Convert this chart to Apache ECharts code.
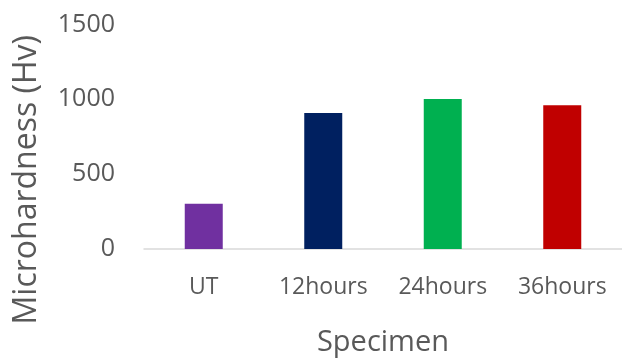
<!DOCTYPE html>
<html>
<head>
<meta charset="utf-8">
<script src="https://cdn.jsdelivr.net/npm/echarts@6/dist/echarts.min.js"></script>
<style>
  html, body { margin: 0; padding: 0; background: #fff; }
  #chart { width: 622px; height: 362px; }
</style>
</head>
<body>
<div id="chart"></div>
<script>
// data
const specimens = ["UT", "12hours", "24hours", "36hours"]
const hardness = [303, 909, 1003, 961]
const barColors = ["#7030A0", "#002060", "#00B050", "#C00000"]

const chart = echarts.init(document.getElementById("chart"))
const font = "'Open Sans', 'Noto Sans', sans-serif"

const options = {
  animation: false,
  grid: { left: 144, top: 24.5, width: 481, height: 228 },
  xAxis: {
    type: "category",
    data: specimens,
    name: "Specimen",
    nameLocation: "middle",
    nameGap: 79,
    nameTextStyle: { fontFamily: font, fontSize: 29, color: "#595959" },
    axisLine: { lineStyle: { color: "#d9d9d9", width: 1.5 } },
    axisTick: { show: false },
    axisLabel: { interval: 0, fontFamily: font, fontSize: 23, color: "#595959", margin: 27 }
  },
  yAxis: {
    type: "value",
    min: 0,
    max: 1500,
    interval: 500,
    name: "Microhardness (Hv)",
    nameLocation: "middle",
    nameGap: 101,
    nameTextStyle: {
      fontFamily: font, fontSize: 32, color: "#595959",
      padding: [0, 86, 0, 0] // push title down toward the baseline like the original
    },
    axisLine: { show: false },
    axisTick: { show: false },
    splitLine: { show: false },
    axisLabel: {
      fontFamily: font, fontSize: 25, color: "#595959", margin: 29,
      formatter: (v) => String(v)
    }
  },
  series: [
    {
      type: "bar",
      barWidth: 38,
      data: hardness.map((v, i) => ({ value: v, itemStyle: { color: barColors[i] } }))
    }
  ]
}
chart.setOption(options)
</script>
</body>
</html>
